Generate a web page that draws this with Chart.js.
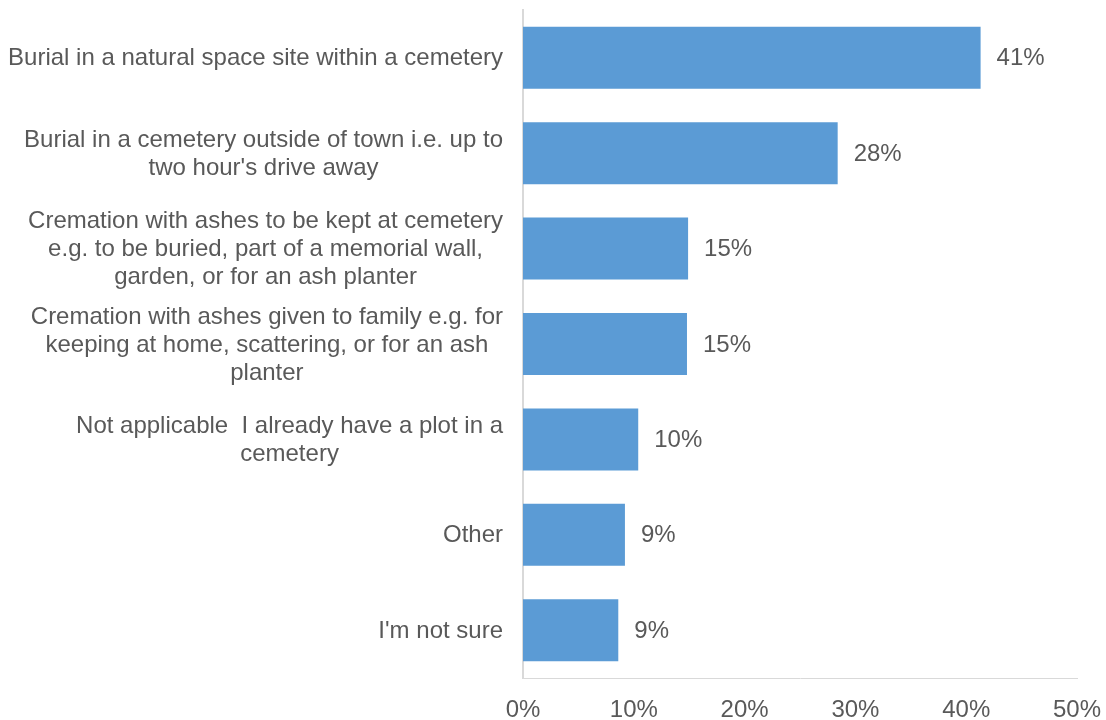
<!DOCTYPE html>
<html lang="en">
<head>
  <meta charset="UTF-8">
  <title>Burial preferences</title>
  <script src="https://cdn.jsdelivr.net/npm/chart.js"></script>
  <style>
    html, body {
      margin: 0;
      padding: 0;
      background: #fff;
    }
    #wrap {
      width: 1106px;
      height: 720px;
    }
  </style>
</head>
<body>
  <div id="wrap"><canvas id="chart"></canvas></div>
  <script>
    const categories = [
      ['Burial in a natural space site within a cemetery'],
      ['Burial in a cemetery outside of town i.e. up to', "two hour's drive away"],
      ['Cremation with ashes to be kept at cemetery', 'e.g. to be buried, part of a memorial wall,', 'garden, or for an ash planter'],
      ['Cremation with ashes given to family e.g. for', 'keeping at home, scattering, or for an ash', 'planter'],
      ['Not applicable  I already have a plot in a', 'cemetery'],
      ['Other'],
      ["I'm not sure"]
    ];
    const values = [41.3, 28.4, 14.9, 14.8, 10.4, 9.2, 8.6];
    const valueLabels = ['41%', '28%', '15%', '15%', '10%', '9%', '9%'];

    const textColor = '#595959';
    const barColor = '#5B9BD5';
    const axisColor = '#D9D9D9';
    const fontFamily = '"Liberation Sans", Arial, sans-serif';
    const fontSize = 24;
    const lineGap = 28;

    // category labels: each block right-aligned to the axis, lines centred inside the block
    const categoryLabels = {
      id: 'categoryLabels',
      afterDraw(chart) {
        const ctx = chart.ctx;
        const yScale = chart.scales.y;
        const right = yScale.right - 20;
        ctx.save();
        ctx.font = fontSize + 'px ' + fontFamily;
        ctx.fillStyle = textColor;
        ctx.textAlign = 'center';
        ctx.textBaseline = 'middle';
        chart.data.labels.forEach((lines, i) => {
          const y = yScale.getPixelForTick(i);
          const w = Math.max(...lines.map(l => ctx.measureText(l).width));
          const cx = right - w / 2;
          const y0 = y - (lines.length - 1) * lineGap / 2;
          lines.forEach((l, j) => ctx.fillText(l, cx, y0 + j * lineGap + 1));
        });
        ctx.restore();
      }
    };

    // percentage next to the end of each bar
    const barValueLabels = {
      id: 'barValueLabels',
      afterDatasetsDraw(chart) {
        const ctx = chart.ctx;
        const meta = chart.getDatasetMeta(0);
        ctx.save();
        ctx.font = fontSize + 'px ' + fontFamily;
        ctx.fillStyle = textColor;
        ctx.textAlign = 'left';
        ctx.textBaseline = 'middle';
        meta.data.forEach((bar, i) => {
          ctx.fillText(valueLabels[i], bar.x + 16, bar.y + 1);
        });
        ctx.restore();
      }
    };

    new Chart(document.getElementById('chart'), {
      type: 'bar',
      data: {
        labels: categories,
        datasets: [{
          data: values,
          backgroundColor: barColor,
          borderWidth: 0,
          barPercentage: 0.65,
          categoryPercentage: 1
        }]
      },
      options: {
        indexAxis: 'y',
        responsive: true,
        maintainAspectRatio: false,
        animation: false,
        layout: {
          padding: { top: 10, right: 29, bottom: 0, left: 0 }
        },
        plugins: {
          legend: { display: false },
          tooltip: { enabled: false }
        },
        scales: {
          x: {
            min: 0,
            max: 50,
            grid: { display: false, drawTicks: false },
            border: { display: true, color: axisColor, width: 1 },
            ticks: {
              stepSize: 10,
              padding: 18,
              color: textColor,
              font: { family: fontFamily, size: fontSize },
              callback: v => v + '%'
            },
            afterFit(scale) {
              scale.height = 42;
              scale.paddingLeft = 0;
              scale.paddingRight = 0;
            }
          },
          y: {
            grid: { display: false, drawTicks: false },
            border: { display: true, color: axisColor, width: 2 },
            ticks: { display: false },
            afterFit(scale) {
              scale.width = 523;
              scale.paddingTop = 0;
              scale.paddingBottom = 0;
            }
          }
        }
      },
      plugins: [barValueLabels, categoryLabels]
    });
  </script>
</body>
</html>
